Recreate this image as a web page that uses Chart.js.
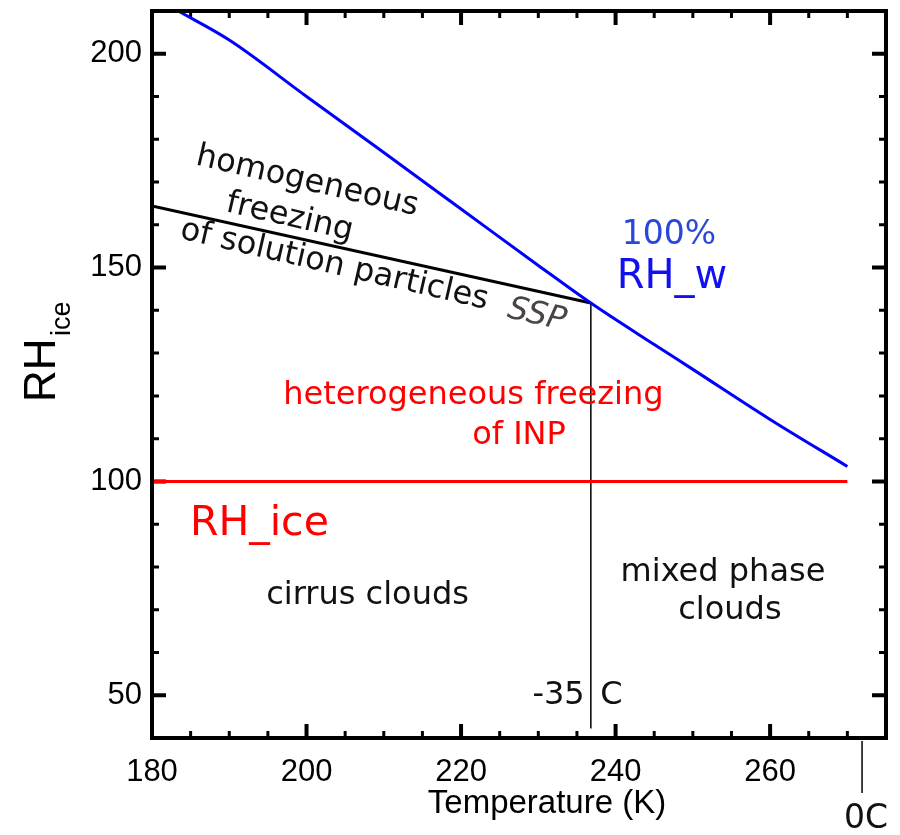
<!DOCTYPE html>
<html>
<head>
<meta charset="utf-8">
<script src="https://cdn.jsdelivr.net/npm/chart.js@4.4.1/dist/chart.umd.min.js"></script>
<style>
  html, body { margin: 0; padding: 0; background: #fff; }
  #wrap { width: 900px; height: 835px; }
</style>
</head>
<body>
<div id="wrap"><canvas id="myChart" width="900" height="835"></canvas></div>
<script>
// water saturation, expressed as RH over ice (K, %)
const rhwTemps  = [183.4, 190, 200, 210, 220, 230, 236.8, 245, 250, 260, 270];
const rhwValues = [210, 203.2, 190.0, 176.9, 163.7, 150.5, 141.7, 132.0, 126.2, 114.5, 103.5];

// homogeneous freezing threshold of solution particles
const homTemps  = [180, 236.8];
const homValues = [164.4, 141.7];

// ice saturation
const iceTemps  = [180, 270];
const iceValues = [100, 100];

// -35 C marker
const m35Temps  = [236.8, 236.8];
const m35Values = [141.7, 42.2];

// 0 C marker below the axis
const zeroCTemp = 271.9;

const xMin = 180, xMax = 275, xTickStep = 5, xLabelStep = 20;
const yMin = 40, yMax = 210, yTickStep = 10, yLabelStep = 50;

const TEXT_FONT = '"DejaVu Sans", sans-serif';
const AXIS_FONT = '"Liberation Sans", Arial, sans-serif';

// text placed in data coordinates
const notes = [
  { text: 'homogeneous', t: 200.1, rh: 170.1, rot: 13, size: 32, color: '#111' },
  { text: 'freezing', t: 197.8, rh: 161.7, rot: 13, size: 32, color: '#111' },
  { text: 'of solution particles', t: 203.6, rh: 150.5, rot: 13, size: 32, color: '#111' },
  { text: 'SSP', t: 229.8, rh: 138.8, rot: 13, size: 32, color: '#4a4444', italic: true },
  { text: '100%', t: 246.9, rh: 157.5, size: 33, color: '#2a48d8' },
  { text: 'RH_w', t: 247.3, rh: 147.6, size: 40, color: '#1010f0' },
  { text: 'heterogeneous freezing', t: 221.6, rh: 120.1, size: 32, color: '#ff0000' },
  { text: 'of INP', t: 227.5, rh: 110.8, size: 32, color: '#ff0000' },
  { text: 'RH_ice', t: 193.9, rh: 89.9, size: 41, color: '#ff0000' },
  { text: 'cirrus clouds', t: 207.9, rh: 73.3, size: 32, color: '#111' },
  { text: 'mixed phase', t: 253.9, rh: 78.7, size: 32, color: '#111' },
  { text: 'clouds', t: 254.8, rh: 69.8, size: 32, color: '#111' },
  { text: '-35', t: 236.0, rh: 50.0, size: 32, color: '#111', align: 'right' },
  { text: 'C', t: 238.0, rh: 50.0, size: 32, color: '#111', align: 'left' }
];

function pts(xs, ys) {
  return xs.map((v, i) => ({ x: v, y: ys[i] }));
}

const framePlugin = {
  id: 'frame',
  // inward ticks on all four sides, under the curves
  beforeDatasetsDraw(chart) {
    const { ctx, chartArea: a, scales: { x, y } } = chart;
    ctx.save();
    ctx.strokeStyle = '#000';
    ctx.lineCap = 'butt';
    x.ticks.forEach(t => {
      const px = x.getPixelForValue(t.value);
      if (px <= a.left + 2 || px >= a.right - 2) return;
      const major = t.value % xLabelStep === 0;
      const len = major ? 14 : 7;
      ctx.lineWidth = major ? 4 : 3;
      ctx.beginPath();
      ctx.moveTo(px, a.bottom); ctx.lineTo(px, a.bottom - len);
      ctx.moveTo(px, a.top); ctx.lineTo(px, a.top + len);
      ctx.stroke();
    });
    y.ticks.forEach(t => {
      const py = y.getPixelForValue(t.value);
      if (py <= a.top + 2 || py >= a.bottom - 2) return;
      const major = t.value % yLabelStep === 0;
      const len = major ? 14 : 7;
      ctx.lineWidth = major ? 4 : 3;
      ctx.beginPath();
      ctx.moveTo(a.left, py); ctx.lineTo(a.left + len, py);
      ctx.moveTo(a.right, py); ctx.lineTo(a.right - len, py);
      ctx.stroke();
    });
    ctx.restore();
  },
  afterDraw(chart) {
    const { ctx, chartArea: a, scales: { x, y } } = chart;
    ctx.save();
    ctx.strokeStyle = '#000';
    ctx.lineWidth = 4;
    ctx.strokeRect(a.left, a.top, a.right - a.left, a.bottom - a.top);

    // 0 C marker hanging under the axis
    const zx = x.getPixelForValue(zeroCTemp);
    ctx.lineWidth = 1.5;
    ctx.beginPath();
    ctx.moveTo(zx, a.bottom + 3);
    ctx.lineTo(zx, a.bottom + 55);
    ctx.stroke();
    ctx.fillStyle = '#111';
    ctx.font = '33px ' + TEXT_FONT;
    ctx.textAlign = 'left';
    ctx.textBaseline = 'middle';
    ctx.fillText('0C', zx - 18, a.bottom + 81);

    // annotations
    notes.forEach(n => {
      ctx.save();
      ctx.translate(x.getPixelForValue(n.t), y.getPixelForValue(n.rh));
      if (n.rot) ctx.rotate(n.rot * Math.PI / 180);
      ctx.font = (n.italic ? 'oblique ' : '') + n.size + 'px ' + TEXT_FONT;
      ctx.fillStyle = n.color;
      ctx.textAlign = n.align || 'center';
      ctx.textBaseline = 'middle';
      ctx.fillText(n.text, 0, 0);
      ctx.restore();
    });

    // axis titles
    ctx.fillStyle = '#000';
    ctx.font = '33px ' + AXIS_FONT;
    ctx.textAlign = 'center';
    ctx.textBaseline = 'alphabetic';
    ctx.fillText('Temperature (K)', 547, a.bottom + 75);

    ctx.save();
    ctx.translate(55, 402);
    ctx.rotate(-Math.PI / 2);
    ctx.textAlign = 'left';
    ctx.font = '44px ' + AXIS_FONT;
    ctx.fillText('RH', 0, 0);
    ctx.font = '27px ' + AXIS_FONT;
    ctx.fillText('ice', 66, 15);
    ctx.restore();

    ctx.restore();
  }
};

const ctx = document.getElementById('myChart').getContext('2d');
const myChart = new Chart(ctx, {
  type: 'line',
  data: {
    datasets: [
      {
        label: 'RH_w',
        data: pts(rhwTemps, rhwValues),
        borderColor: '#0000ff',
        borderWidth: 3,
        pointRadius: 0,
        cubicInterpolationMode: 'monotone'
      },
      {
        label: 'homogeneous freezing',
        data: pts(homTemps, homValues),
        borderColor: '#000',
        borderWidth: 3,
        pointRadius: 0
      },
      {
        label: 'RH_ice',
        data: pts(iceTemps, iceValues),
        borderColor: '#ff0000',
        borderWidth: 3,
        pointRadius: 0
      },
      {
        label: '-35 C',
        data: pts(m35Temps, m35Values),
        borderColor: '#000',
        borderWidth: 1.5,
        pointRadius: 0
      }
    ]
  },
  options: {
    responsive: false,
    animation: false,
    layout: { padding: { top: 11, right: 14, left: 0, bottom: 0 } },
    plugins: {
      legend: { display: false },
      tooltip: { enabled: false }
    },
    scales: {
      x: {
        type: 'linear',
        min: xMin,
        max: xMax,
        afterFit(s) {
          s.height = 97;
          s.paddingLeft = 0;
          s.paddingRight = 0;
        },
        grid: { display: false, drawTicks: false },
        border: { display: false },
        ticks: {
          stepSize: xTickStep,
          autoSkip: false,
          maxRotation: 0,
          padding: 16,
          color: '#000',
          font: { size: 31, family: AXIS_FONT },
          callback: v => (v % xLabelStep === 0 ? String(v) : '')
        }
      },
      y: {
        type: 'linear',
        min: yMin,
        max: yMax,
        afterFit(s) {
          s.width = 152;
          s.paddingTop = 0;
          s.paddingBottom = 0;
        },
        grid: { display: false, drawTicks: false },
        border: { display: false },
        ticks: {
          stepSize: yTickStep,
          autoSkip: false,
          padding: 10,
          color: '#000',
          font: { size: 31, family: AXIS_FONT },
          callback: v => (v % yLabelStep === 0 ? String(v) : '')
        }
      }
    }
  },
  plugins: [framePlugin]
});
</script>
</body>
</html>
